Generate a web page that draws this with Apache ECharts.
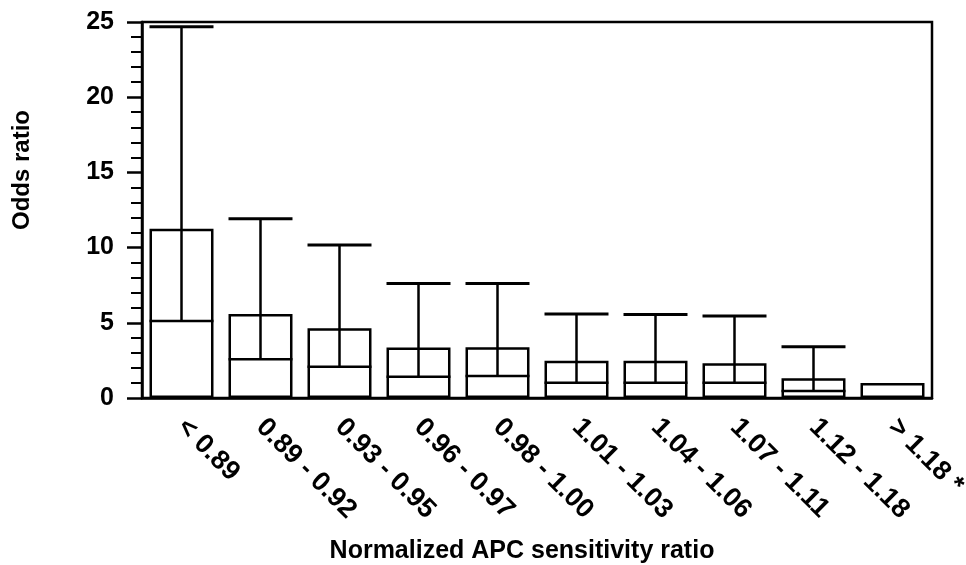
<!DOCTYPE html>
<html>
<head>
<meta charset="utf-8">
<script src="https://cdn.jsdelivr.net/npm/echarts@6/dist/echarts.min.js"></script>
<style>html,body{margin:0;padding:0;background:#fff;}#c{width:966px;height:565px;}</style>
</head>
<body>
<div id="c"></div>
<script>
var categories = ['< 0.89', '0.89 - 0.92', '0.93 - 0.95', '0.96 - 0.97', '0.98 - 1.00', '1.01 - 1.03', '1.04 - 1.06', '1.07 - 1.11', '1.12 - 1.18', '> 1.18 *'];
var oddsRatio = [11.26, 5.59, 4.63, 3.35, 3.37, 2.48, 2.48, 2.31, 1.31, 1.0];
var ciLower = [5.12, 2.57, 2.08, 1.42, 1.46, 1.02, 1.02, 1.02, 0.47, null];
var ciUpper = [24.69, 11.92, 10.17, 7.62, 7.62, 5.59, 5.56, 5.45, 3.41, null];
var yTicks = [0, 5, 10, 15, 20, 25];

var FONT = '"Liberation Sans", Arial, Helvetica, sans-serif';
var LW = 2.5;
var BAR_FRAC = 0.81;

var errData = [];
for (var i = 0; i < categories.length; i++) {
  if (ciLower[i] != null && ciUpper[i] != null) errData.push([i, ciLower[i], ciUpper[i]]);
}

var chart = echarts.init(document.getElementById('c'));
chart.setOption({
  animation: false,
  backgroundColor: '#fff',
  grid: { left: 142, right: 34, top: 22, bottom: 167, containLabel: false, outerBoundsMode: 'none', show: true, borderColor: '#000', borderWidth: LW, backgroundColor: 'transparent' },
  xAxis: {
    type: 'category',
    data: categories,
    boundaryGap: true,
    axisLine: { show: true, lineStyle: { color: '#000', width: LW } },
    axisTick: { show: false },
    axisLabel: { rotate: -45, margin: 25, color: '#000', fontFamily: FONT, fontWeight: 'bold', fontSize: 27, interval: 0 },
    name: 'Normalized APC sensitivity ratio',
    nameLocation: 'middle',
    nameGap: 141,
    nameTextStyle: { color: '#000', fontFamily: FONT, fontWeight: 'bold', fontSize: 25, padding: [0, 30, 0, 0] }
  },
  yAxis: {
    type: 'value',
    min: yTicks[0],
    max: yTicks[yTicks.length - 1],
    interval: 5,
    axisLine: { show: true, lineStyle: { color: '#000', width: LW } },
    axisTick: { show: true, length: 15, lineStyle: { color: '#000', width: LW } },
    minorTick: { show: true, splitNumber: 5, length: 11, lineStyle: { color: '#000', width: 2 } },
    splitLine: { show: false },
    axisLabel: { margin: 28, color: '#000', fontFamily: FONT, fontWeight: 'bold', fontSize: 25 },
    name: 'Odds ratio',
    nameLocation: 'middle',
    nameGap: 108,
    nameTextStyle: { color: '#000', fontFamily: FONT, fontWeight: 'bold', fontSize: 24, padding: [0, 0, 0, 80] }
  },
  series: [
    {
      type: 'bar',
      data: oddsRatio,
      barWidth: (BAR_FRAC * 100) + '%',
      itemStyle: { color: '#fff', borderColor: '#000', borderWidth: LW },
      z: 2
    },
    {
      type: 'custom',
      data: errData,
      z: 3,
      renderItem: function (params, api) {
        var x = api.value(0);
        var lo = api.coord([x, api.value(1)]);
        var hi = api.coord([x, api.value(2)]);
        var w = api.size([1, 0])[0] * BAR_FRAC;
        return {
          type: 'group',
          children: [
            { type: 'line', shape: { x1: lo[0], y1: lo[1], x2: hi[0], y2: hi[1] }, style: { stroke: '#000', lineWidth: LW } },
            { type: 'line', shape: { x1: hi[0] - w / 2, y1: hi[1], x2: hi[0] + w / 2, y2: hi[1] }, style: { stroke: '#000', lineWidth: 3 } },
            { type: 'line', shape: { x1: lo[0] - w / 2, y1: lo[1], x2: lo[0] + w / 2, y2: lo[1] }, style: { stroke: '#000', lineWidth: LW } }
          ]
        };
      }
    }
  ]
});
</script>
</body>
</html>
